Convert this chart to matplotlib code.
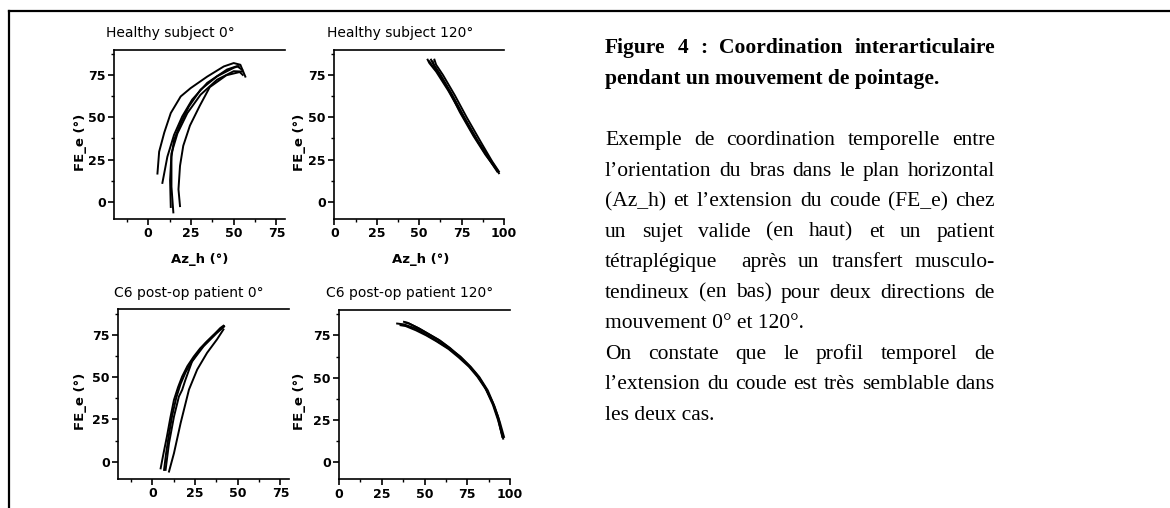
import matplotlib
matplotlib.use("Agg")
import matplotlib.pyplot as plt
from matplotlib.ticker import MultipleLocator
from matplotlib.lines import Line2D

# ---------------- data ----------------
hs0_x = [
    [5.4, 6.4, 9.4, 13.2, 19.0, 24.8, 34.5, 44.2, 50.0, 53.9, 56.8],
    [8.3, 11.2, 15.1, 19.9, 25.7, 34.5, 46.1, 52.0, 54.9],
    [14.7, 13.6, 13.6, 15.1, 19.0, 23.8, 30.6, 40.3, 50.0, 52.9],
    [13.2, 12.8, 13.6, 17.1, 22.9, 30.6, 40.3, 50.0, 54.9],
    [18.6, 17.7, 18.6, 20.5, 24.4, 30.2, 36.0, 45.7, 53.5, 55.3],
]
hs0_y = [
    [16.8, 29.7, 41.0, 52.5, 62.3, 67.2, 74.0, 80.0, 82.0, 81.0, 74.0],
    [11.3, 26.7, 39.6, 50.5, 60.4, 70.3, 78.2, 80.2, 78.0],
    [-6.1, 9.0, 26.7, 36.6, 46.5, 56.4, 66.3, 74.2, 79.2, 80.2],
    [-2.9, 12.8, 28.7, 40.5, 52.5, 63.3, 72.2, 77.2, 77.0],
    [-2.4, 7.5, 21.3, 33.2, 45.1, 56.9, 67.8, 74.8, 76.7, 75.0],
]

hs120_x = [
    [55, 56, 60, 67, 75, 83, 90, 96],
    [57, 58, 62, 69, 76, 84, 91, 97],
    [58, 59, 63, 70, 77, 85, 92, 96],
    [59, 60, 64, 71, 78, 86, 93, 97],
    [56, 58, 62, 68, 74, 82, 89, 95],
]
hs120_y = [
    [84, 82, 77, 66, 52, 38, 27, 18],
    [84, 82, 76, 64, 51, 37, 26, 17],
    [83, 80, 74, 62, 49, 35, 25, 19],
    [84, 81, 75, 63, 50, 36, 24, 18],
    [83, 80, 75, 65, 53, 39, 28, 20],
]

c60_x = [
    [4.8, 6.5, 8.5, 10.5, 12.6, 15.0, 17.4, 20.5, 24.2, 28.0, 31.9, 36.0, 39.7, 41.6],
    [6.8, 8.0, 9.5, 11.5, 14.0, 16.5, 19.5, 23.0, 27.0, 31.0, 35.5, 40.0, 42.0],
    [7.7, 9.7, 12.6, 15.5, 17.4, 19.3, 23.2, 29.9, 37.7, 41.6],
    [9.7, 12.6, 16.5, 21.4, 26.2, 32.0, 37.8, 41.6],
]
c60_y = [
    [-3.9, 5.0, 15.0, 26.0, 36.5, 44.0, 50.3, 56.5, 62.1, 67.0, 71.0, 75.0, 78.9, 80.3],
    [-4.8, 5.0, 15.0, 27.0, 38.0, 46.0, 53.0, 59.0, 65.0, 70.0, 74.5, 78.5, 80.0],
    [-4.8, 10.9, 26.6, 38.5, 42.4, 48.3, 59.2, 68.1, 76.0, 79.5],
    [-5.8, 5.0, 22.8, 42.6, 54.4, 64.3, 72.2, 78.1],
]

c6120_x = [
    [34, 38, 45, 50, 56, 63, 70, 75, 80, 85, 90, 93, 95.5],
    [36, 39, 45, 51, 57, 64, 70, 76, 81, 86, 90, 93, 96],
    [38, 40, 46, 52, 58, 64, 71, 77, 82, 87, 91, 94, 96.5],
    [39, 41, 47, 53, 59, 65, 71, 77, 82, 86, 90, 93, 95],
]
c6120_y = [
    [82, 81.5, 79, 76, 72.5, 68, 63, 58, 52.5, 45, 35, 26, 15],
    [81, 80.5, 78, 75, 71.5, 67, 62, 56.5, 50.5, 43, 34, 25, 14],
    [83, 82.5, 79.5, 76, 72.5, 68, 62.5, 56.5, 50.5, 42.5, 33, 24, 15],
    [82.5, 82, 79, 75.5, 72, 67.5, 62, 56, 50, 43.5, 35, 27, 18],
]

titles = ["Healthy subject 0°", "Healthy subject 120°",
          "C6 post-op patient 0°", "C6 post-op patient 120°"]
x_label = "Az_h (°)"
y_label = "FE_e (°)"
y_ticks = [0, 25, 50, 75]
x_ticks_0 = [0, 25, 50, 75]
x_ticks_120 = [0, 25, 50, 75, 100]

caption_lines = [
    "Figure 4 : Coordination interarticulaire",
    "pendant un mouvement de pointage.",
    "Exemple de coordination temporelle entre",
    "l\u2019orientation du bras dans le plan horizontal",
    "(Az_h) et l\u2019extension du coude (FE_e) chez",
    "un sujet valide (en haut) et un patient",
    "tétraplégique  après un transfert musculo-",
    "tendineux (en bas) pour deux directions de",
    "mouvement 0° et 120°.",
    "On constate que le profil temporel de",
    "l\u2019extension du coude est très semblable dans",
    "les deux cas.",
]
caption_bold = [True, True] + [False] * 10
caption_justify = [True, False, True, True, True, True, True, True, False, True, True, False]
caption_row = [0, 1, 3, 4, 5, 6, 7, 8, 9, 10, 11, 12]

# ---------------- figure ----------------
W, H, DPI = 1170, 508, 100
fig = plt.figure(figsize=(W / DPI, H / DPI), dpi=DPI)
fig.patch.set_facecolor("white")


def fx(px):
    return px / W


def fy(py):
    return 1 - py / H


SANS = "DejaVu Sans"

panels = [
    dict(box=(114, 49.5, 285, 219), xlim=(-20, 80), xt=x_ticks_0, xs=hs0_x, ys=hs0_y,
         title=titles[0], tpos=(170, 33), xl=(200, 259), yl=(80, 142)),
    dict(box=(334.3, 49.5, 504, 219), xlim=(0, 100), xt=x_ticks_120, xs=hs120_x, ys=hs120_y,
         title=titles[1], tpos=(400, 33), xl=(421, 259), yl=(299, 142)),
    dict(box=(118.3, 309.3, 289, 478.7), xlim=(-20, 80), xt=x_ticks_0, xs=c60_x, ys=c60_y,
         title=titles[2], tpos=(189, 293), xl=None, yl=(80, 401)),
    dict(box=(339, 310, 510, 479.3), xlim=(0, 100), xt=x_ticks_120, xs=c6120_x, ys=c6120_y,
         title=titles[3], tpos=(410, 293), xl=None, yl=(299, 401)),
]

for p in panels:
    l, t, r, b = p["box"]
    ax = fig.add_axes([fx(l), fy(b), (r - l) / W, (b - t) / H])
    for xs, ys in zip(p["xs"], p["ys"]):
        ax.plot(xs, ys, color="black", lw=1.4, solid_joinstyle="round")
    ax.set_xlim(*p["xlim"])
    ax.set_ylim(-10, 90)
    ax.set_xticks(p["xt"])
    ax.set_yticks(y_ticks)
    ax.xaxis.set_minor_locator(MultipleLocator(12.5))
    ax.yaxis.set_minor_locator(MultipleLocator(12.5))
    ax.spines["right"].set_visible(False)
    for s in ("left", "bottom", "top"):
        ax.spines[s].set_linewidth(1.2)
    ax.tick_params(which="major", direction="out", length=4, width=1.2,
                   labelsize=9, pad=2)
    ax.tick_params(which="minor", direction="out", length=2.5, width=1.0)
    for lab in ax.get_xticklabels() + ax.get_yticklabels():
        lab.set_fontfamily(SANS)
        lab.set_fontweight("bold")
    fig.text(fx(p["tpos"][0]), fy(p["tpos"][1]), p["title"], ha="center", va="center",
             fontsize=10, family=SANS)
    if p["xl"] is not None:
        fig.text(fx(p["xl"][0]), fy(p["xl"][1]), x_label, ha="center", va="center",
                 fontsize=9.5, family=SANS, weight="bold")
    fig.text(fx(p["yl"][0]), fy(p["yl"][1]), y_label, ha="center", va="center",
             rotation=90, fontsize=9.5, family=SANS, weight="bold")

# outer frame (left and top edges)
fig.add_artist(Line2D([fx(9), fx(9)], [fy(11), 0], color="black", lw=1.6,
                      solid_capstyle="projecting"))
fig.add_artist(Line2D([fx(9), 1], [fy(11), fy(11)], color="black", lw=1.6,
                      solid_capstyle="projecting"))

# ---------------- justified caption ----------------
renderer = fig.canvas.get_renderer()
CAP_L, CAP_R = 605, 995
CAP_Y0, CAP_DY = 53.3, 30.56
CAP_SIZE = 15.5
SERIF = "Liberation Serif"


def text_width(s, weight):
    t = fig.text(0, 0, s, fontsize=CAP_SIZE, family=SERIF, weight=weight)
    w = t.get_window_extent(renderer).width
    t.remove()
    return w


for line, bold, just, row in zip(caption_lines, caption_bold, caption_justify, caption_row):
    weight = "bold" if bold else "normal"
    yb = fy(CAP_Y0 + row * CAP_DY)
    if not just:
        fig.text(fx(CAP_L), yb, line, fontsize=CAP_SIZE, family=SERIF, weight=weight,
                 ha="left", va="baseline")
        continue
    tokens = line.split(" ")
    words, gaps = [], []
    n_sp = 0
    for tok in tokens:
        if tok == "":
            n_sp += 1
            continue
        if words:
            gaps.append(n_sp + 1)
        words.append(tok)
        n_sp = 0
    space_w = text_width("x x", weight) - text_width("xx", weight)
    widths = [text_width(w_, weight) for w_ in words]
    total_sp = sum(gaps)
    extra = (CAP_R - CAP_L - sum(widths) - total_sp * space_w) / max(total_sp, 1)
    x = CAP_L
    for i, w_ in enumerate(words):
        fig.text(fx(x), yb, w_, fontsize=CAP_SIZE, family=SERIF, weight=weight,
                 ha="left", va="baseline")
        x += widths[i]
        if i < len(gaps):
            x += gaps[i] * (space_w + extra)

fig.savefig("out.png", dpi=DPI, facecolor="white")
